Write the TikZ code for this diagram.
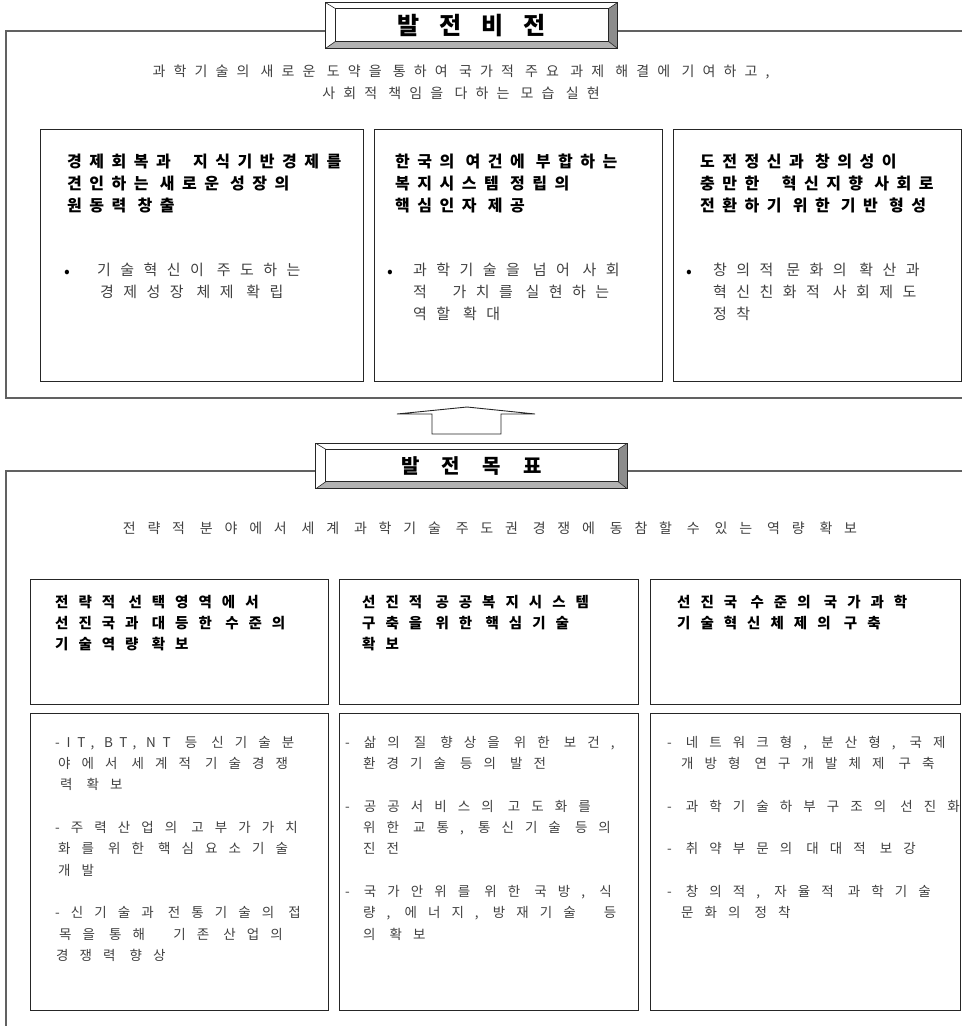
\documentclass[tikz,border=0pt]{standalone}
\usepackage{fontspec}
\usetikzlibrary{calc}
\newfontfamily\kr{Noto Sans CJK KR}
\newcommand\ttlfont{\kr\bfseries\addfontfeatures{LetterSpace=82}\fontsize{24}{28}\selectfont}
\newcommand\ttlfontb{\kr\bfseries\addfontfeatures{LetterSpace=112}\fontsize{20}{24}\selectfont}
\newcommand\hdfont{\kr\bfseries\addfontfeatures{LetterSpace=47}\fontsize{16}{22}\selectfont}
\newcommand\hdfontb{\kr\bfseries\addfontfeatures{LetterSpace=69}\fontsize{14.5}{21}\selectfont}
\newcommand\bdfont{\kr\addfontfeatures{LetterSpace=63}\fontsize{15}{22}\selectfont}
\newcommand\bdfontb{\kr\addfontfeatures{LetterSpace=82}\fontsize{13.5}{21.3}\selectfont}
\newcommand\leadfont{\kr\addfontfeatures{LetterSpace=58}\fontsize{14}{22}\selectfont}
\newcommand\leadfontb{\kr\addfontfeatures{LetterSpace=84}\fontsize{14}{22}\selectfont}
\newcommand\latin{\addfontfeatures{LetterSpace=50}}
% bevelled frame round a title node
\newcommand\bevel[1]{%
  \coordinate (#1iNW) at ($(#1.north west)+(10,6)$);
  \coordinate (#1iNE) at ($(#1.north east)+(-9,6)$);
  \coordinate (#1iSE) at ($(#1.south east)+(-9,-7)$);
  \coordinate (#1iSW) at ($(#1.south west)+(10,-7)$);
  \fill[black!45] (#1.north east) -- (#1.south east) -- (#1iSE) -- (#1iNE) -- cycle;
  \fill[black!30] (#1.south west) -- (#1.south east) -- (#1iSE) -- (#1iSW) -- cycle;
  \draw[cell] (#1.north west) rectangle (#1.south east);
  \draw[cell] (#1iNW) rectangle (#1iSE);
  \draw[black!85,line width=0.6pt] (#1.north west) -- (#1iNW) (#1.north east) -- (#1iNE)
    (#1.south east) -- (#1iSE) (#1.south west) -- (#1iSW);}

\begin{document}
\begin{tikzpicture}[x=1pt,y=-1pt,
  frameline/.style={draw=black!62,line width=1.3pt},
  cell/.style={draw=black!85,line width=0.9pt},
  box/.style={cell,anchor=north west,inner sep=0pt},
  ttl/.style={fill=white,inner sep=0pt,minimum width=#1,minimum height=45pt},
  hd/.style={anchor=north west,inner sep=0pt,align=left,font=\hdfont},
  hdb/.style={anchor=north west,inner sep=0pt,align=left,font=\hdfontb},
  bd/.style={anchor=north west,inner sep=0pt,align=left,font=\bdfont,text=black!75},
  bdb/.style={anchor=north west,inner sep=0pt,align=left,font=\bdfontb,text=black!75},
  dot/.style={anchor=north west,inner sep=0pt,font=\kr\fontsize{17}{22}\selectfont},
  lead/.style={inner sep=0pt,align=center,text=black!75}]

\useasboundingbox (0,0) rectangle (962,1026);

\draw[frameline] (962,31) -- (6,31) -- (6,398) -- (962,398);
\draw[frameline] (962,471) -- (6,471) -- (6,1026);

\node[ttl=291pt] (visT) at (471.5,25.5) {};
\bevel{visT}
\node[font=\ttlfont] at (visT) {발전비전};

\node[lead,font=\leadfont] (visL) at (461,82) {과학기술의 새로운 도약을 통하여 국가적 주요 과제 해결에 기여하고,\\사회적 책임을 다하는 모습 실현};

\node[box,minimum width=323pt,minimum height=252pt] (visA) at (40,129) {};
\node[box,minimum width=288pt,minimum height=252pt] (visB) at (374,129) {};
\node[box,minimum width=288pt,minimum height=252pt] (visC) at (673,129) {};

\node[hd] at (67,154) {경제회복과\ \ 지식기반경제를\\견인하는 새로운 성장의\\원동력 창출};
\node[hd] at (395,154) {한국의 여건에 부합하는\\복지시스템 정립의\\핵심인자 제공};
\node[hd] at (700,154) {도전정신과 창의성이\\충만한\ \ 혁신지향 사회로\\전환하기 위한 기반 형성};

\node[dot] at (64,270) {•};
\node[bd] at (97,263) {기술혁신이 주도하는\\\hspace{3pt}경제성장 체제 확립};
\node[dot] at (387,270) {•};
\node[bd] at (413,263) {과학기술을 넘어 사회\\적\ \ 가치를 실현하는\\역할 확대};
\node[dot] at (686,270) {•};
\node[bd] at (713,263) {창의적 문화의 확산과\\혁신친화적 사회제도\\정착};

\draw[cell,fill=white] (432,434) -- (432,414) -- (397,414) -- (467,407) -- (535,414)
  -- (501,414) -- (501,434) -- cycle;

\node[ttl=311pt] (goalT) at (471.5,466) {};
\bevel{goalT}
\node[font=\ttlfontb] at (goalT) {발전목표};

\node[lead,font=\leadfontb] (goalL) at (490,528) {전략적 분야에서 세계 과학기술 주도권 경쟁에 동참할 수 있는 역량 확보};

\node[box,minimum width=298pt,minimum height=125pt] (goalA) at (30,579) {};
\node[box,minimum width=299pt,minimum height=125pt] (goalB) at (339,579) {};
\node[box,minimum width=310pt,minimum height=125pt] (goalC) at (650,579) {};
\node[box,minimum width=298pt,minimum height=297pt] (taskA) at (30,713) {};
\node[box,minimum width=299pt,minimum height=297pt] (taskB) at (339,713) {};
\node[box,minimum width=310pt,minimum height=297pt] (taskC) at (650,713) {};

\node[hdb] at (55,595) {전략적 선택영역에서\\선진국과 대등한 수준의\\기술역량 확보};
\node[hdb] at (362,595) {선진적 공공복지시스템\\구축을 위한 핵심기술\\확보};
\node[hdb] at (677,595) {선진국 수준의 국가과학\\기술혁신체제의 구축};

\node[bdb] at (55,736) {{\latin -IT,\ BT,\ NT} 등 신기술분\\\hspace{3pt}야에서 세계적 기술경쟁\\\hspace{5pt}력 확보\\[21.3pt]-주력산업의 고부가가치\\\hspace{3pt}화를 위한 핵심요소기술\\\hspace{3pt}개발\\[21.3pt]-신기술과 전통기술의 접\\\hspace{4pt}목을 통해\ \ 기존 산업의\\\hspace{1pt}경쟁력 향상};
\node[bdb] at (345,736) {- 삶의 질 향상을 위한 보건,\\\hspace{18pt}환경기술 등의 발전\\[21.3pt]- 공공서비스의 고도화를\\\hspace{18pt}위한 교통, 통신기술 등의\\\hspace{18pt}진전\\[21.3pt]- 국가안위를 위한 국방, 식\\\hspace{18pt}량, 에너지, 방재기술\ \ 등\\\hspace{18pt}의 확보};
\node[bdb] at (667,736) {- 네트워크형, 분산형, 국제\\\hspace{14pt}개방형 연구개발체제 구축\\[21.3pt]- 과학기술하부구조의 선진화\\[21.3pt]- 취약부문의 대대적 보강\\[21.3pt]- 창의적, 자율적 과학기술\\\hspace{14pt}문화의 정착};
\end{tikzpicture}
\end{document}
